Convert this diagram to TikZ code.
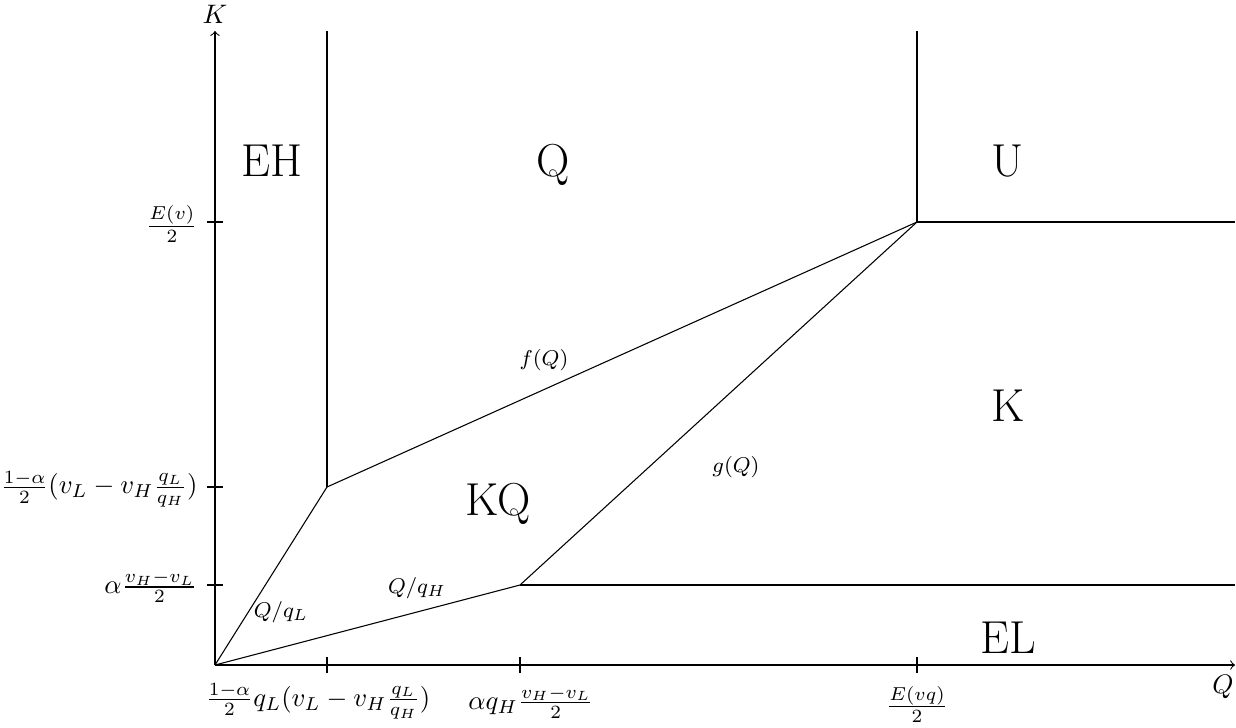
\documentclass[tikz,border=0pt]{standalone}
\usepackage{amsmath}
\begin{document}
\begin{tikzpicture}[x=0.374pt,y=-0.374pt,
  region/.style={font=\LARGE,anchor=base,inner sep=0pt},
  curvelabel/.style={font=\footnotesize,anchor=base,inner sep=0pt},
  ticklab/.style={inner sep=0pt}]
\useasboundingbox (0,0) rectangle (1236,727);
% coordinates
\coordinate (O) at (215,665);
\coordinate (ytop) at (215,31);
\coordinate (xend) at (1235,665);
\coordinate (A) at (327,487);
\coordinate (B) at (520,585);
\coordinate (C) at (917,222);
\coordinate (Atop) at (327,31);
\coordinate (Ctop) at (917,31);
\coordinate (Cr) at (1235,222);
\coordinate (Br) at (1235,585);
\coordinate (tx1) at (327,665);
\coordinate (tx2) at (520,665);
\coordinate (tx3) at (917,665);
\coordinate (ty1) at (215,222);
\coordinate (ty2) at (215,487);
\coordinate (ty3) at (215,585);
% axes
\draw[->] (O) -- (ytop);
\draw[->] (O) -- (xend);
\node[ticklab,anchor=base] (Klab) at (215,23) {$K$};
\node[ticklab,anchor=base] (Qlab) at (1223,693) {$Q$};
% ticks
\foreach \t in {tx1,tx2,tx3} \draw ([yshift=-3pt]\t) -- ([yshift=3pt]\t);
\foreach \t in {ty1,ty2,ty3} \draw ([xshift=-3pt]\t) -- ([xshift=3pt]\t);
% tick labels
\node[ticklab,anchor=east] (ly1) at (198,224) {$\frac{E(v)}{2}$};
\node[ticklab,anchor=east] (ly2) at (198,489) {$\frac{1-\alpha}{2}(v_L-v_H\frac{q_L}{q_H})$};
\node[ticklab,anchor=east] (ly3) at (198,587) {$\alpha\frac{v_H-v_L}{2}$};
\node[ticklab,anchor=north] (lx1) at (318,683) {$\frac{1-\alpha}{2}q_L(v_L-v_H\frac{q_L}{q_H})$};
\node[ticklab,anchor=north] (lx2) at (531,686) {$\alpha q_H\frac{v_H-v_L}{2}$};
\node[ticklab,anchor=north] (lx3) at (917,686) {$\frac{E(vq)}{2}$};
% boundaries
\draw (A) -- (Atop);
\draw (C) -- (Ctop);
\draw (C) -- (Cr);
\draw (B) -- (Br);
\draw (O) -- (A) -- (C);
\draw (O) -- (B) -- (C);
% region labels
\node[region] (EH) at (272,176) {EH};
\node[region] (Qr) at (553,176) {Q};
\node[region] (U) at (1008,176) {U};
\node[region] (Kr) at (1008,421) {K};
\node[region] (KQ) at (498,515) {KQ};
\node[region] (EL) at (1008,653) {EL};
% curve labels
\node[curvelabel] (fQ) at (544,365) {$f(Q)$};
\node[curvelabel] (gQ) at (736,472) {$g(Q)$};
\node[curvelabel] (qH) at (417,593) {$Q/q_H$};
\node[curvelabel] (qL) at (281,617) {$Q/q_L$};
\end{tikzpicture}
\end{document}
